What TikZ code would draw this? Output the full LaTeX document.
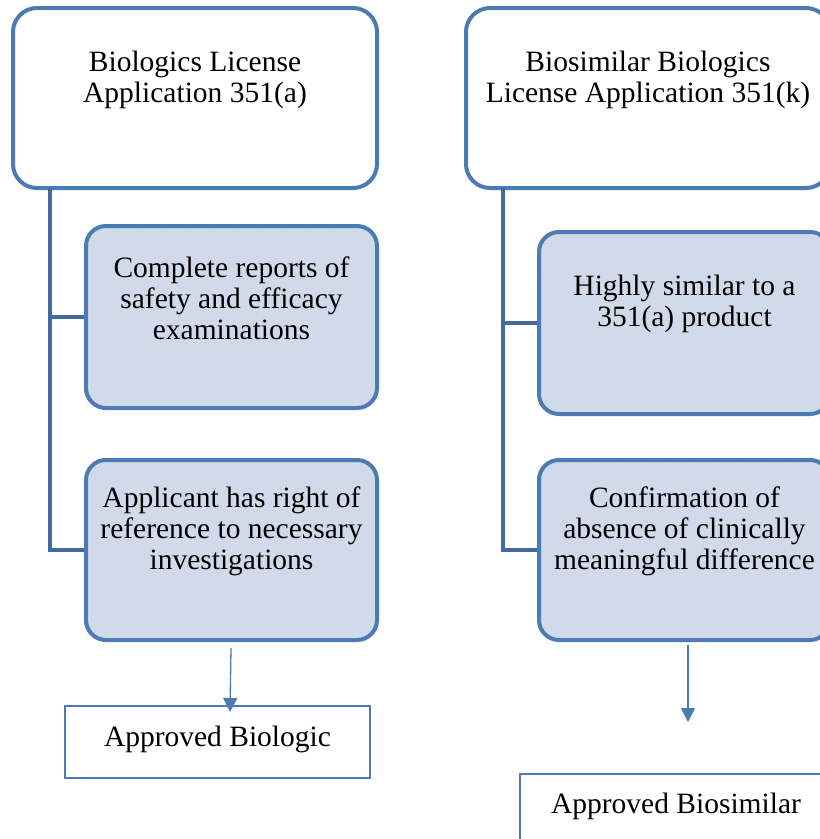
\documentclass[tikz,border=0pt]{standalone}
\usepackage{fontspec}
\setmainfont{Liberation Serif}
\usetikzlibrary{arrows.meta,patterns}
\definecolor{bord}{RGB}{76,122,178}
\definecolor{conn}{RGB}{66,106,158}
\definecolor{boxfill}{RGB}{208,217,233}
\definecolor{dotc}{RGB}{228,233,242}
\begin{document}
\begin{tikzpicture}[x=1pt,y=-1pt,
  topbox/.style={draw=bord,line width=4pt,rounded corners=24pt,fill=white,inner sep=0pt},
  subbox/.style={draw=bord,line width=4pt,rounded corners=20pt,inner sep=0pt,
     preaction={fill=boxfill},pattern=dots,pattern color=dotc},
  endbox/.style={draw=bord,line width=2pt,fill=white,inner sep=0pt},
  txt/.style={align=center,font=\fontsize{29.5}{31}\selectfont,inner sep=0pt},
  link/.style={draw=conn,line width=4pt},
  arr/.style={draw=bord,line width=1.3pt,-{Triangle[length=14pt,width=14pt]}}]
\useasboundingbox (0,0) rectangle (820,839);
\clip (0,0) rectangle (820,839);
% left column
\node[topbox,minimum width=364pt,minimum height=180pt] (L1) at (195,98) {};
\node[txt] (L1t) at (195,79.5) {Biologics License\\Application 351(a)};
\node[subbox,minimum width=291pt,minimum height=182pt] (L2) at (231.5,317) {};
\node[txt] (L2t) at (231.5,298) {Complete reports of\\safety and efficacy\\examinations};
\node[subbox,minimum width=291pt,minimum height=180pt] (L3) at (231.5,550) {};
\node[txt] (L3t) at (231.5,531) {Applicant has right of\\reference to necessary\\investigations};
\node[endbox,minimum width=305pt,minimum height=72pt] (L4) at (217.5,742) {};
\node[txt] (L4t) at (217.5,739) {Approved Biologic};
\coordinate (Lc) at (50,188);
\draw[link] (Lc) -- (50,550) -- (L3.west);
\draw[link] (50,317) -- (L2.west);
\coordinate (La) at (231,648);
\draw[arr] (La) -- (230,712);
% right column
\node[topbox,minimum width=364pt,minimum height=180pt] (R1) at (648,98) {};
\node[txt] (R1t) at (648,79.5) {Biosimilar Biologics\\License Application 351(k)};
\node[subbox,minimum width=291pt,minimum height=182pt] (R2) at (684.5,323) {};
\node[txt] (R2t) at (684.5,304) {Highly similar to a\\351(a) product};
\node[subbox,minimum width=291pt,minimum height=180pt] (R3) at (684.5,550) {};
\node[txt] (R3t) at (684.5,531) {Confirmation of\\absence of clinically\\meaningful difference};
\node[endbox,minimum width=312pt,minimum height=80pt] (R4) at (676,814) {};
\node[txt] (R4t) at (676,806) {Approved Biosimilar};
\coordinate (Rc) at (503,188);
\draw[link] (Rc) -- (503,550) -- (R3.west);
\draw[link] (503,323) -- (R2.west);
\coordinate (Ra) at (688,645);
\coordinate (Rb) at (688,722);
\draw[arr] (Ra) -- (Rb);
\end{tikzpicture}
\end{document}
